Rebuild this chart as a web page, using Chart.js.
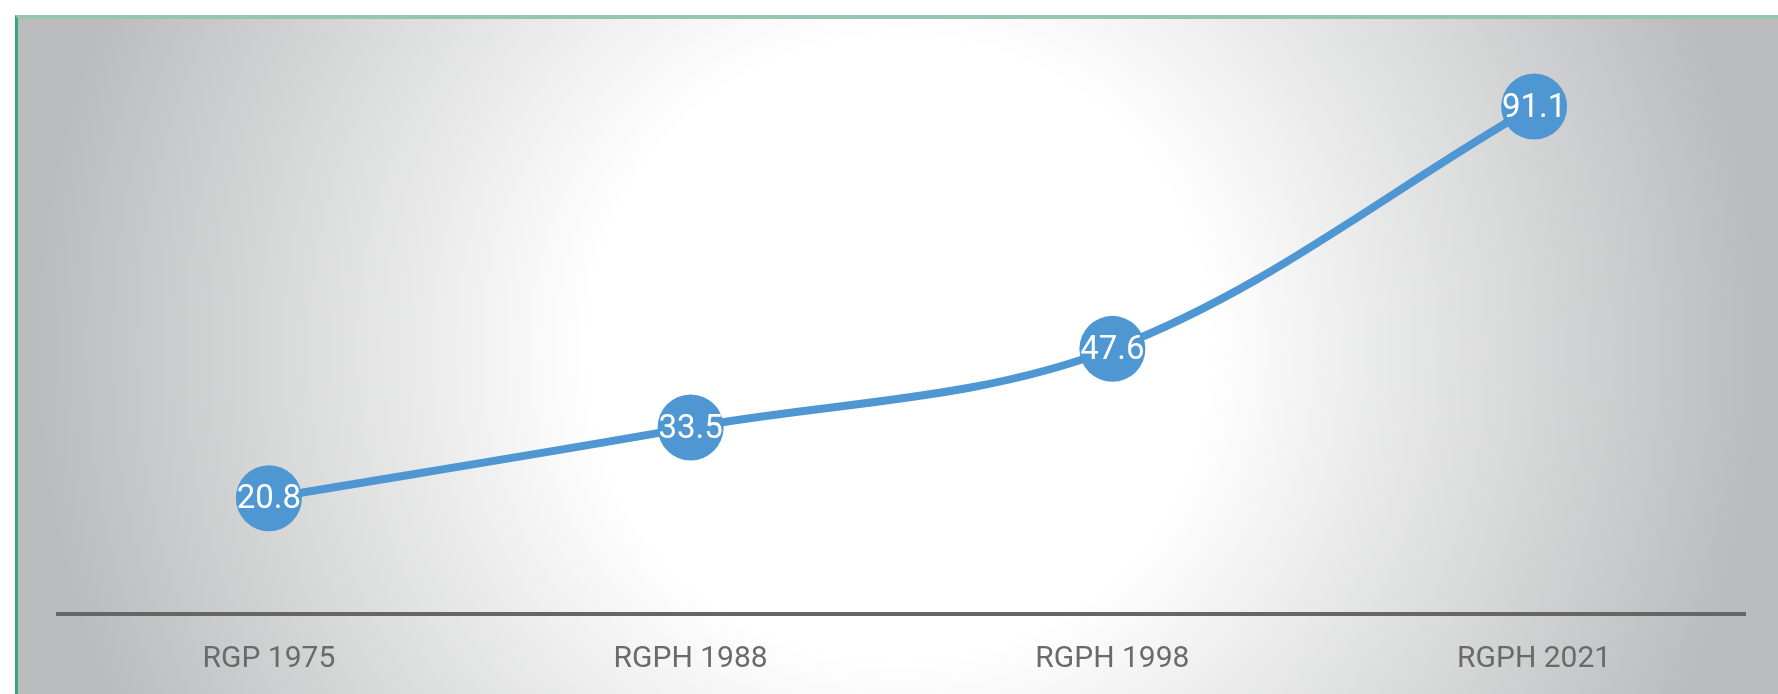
<!DOCTYPE html>
<html>
<head>
<meta charset="utf-8">
<script src="https://cdn.jsdelivr.net/npm/chart.js@4.4.1/dist/chart.umd.min.js"></script>
<style>
  html, body { margin: 0; padding: 0; width: 1778px; height: 694px; overflow: hidden; background: #fff; }
  #box {
    position: absolute; left: 15px; top: 15px; width: 1800px; height: 800px;
    border-left: 3px solid #3aa57a; border-top: 4px solid #98c5ae;
    background: radial-gradient(circle 860px at 880px 330px, #ffffff 0%, #ffffff 36%, #bbbcbd 100%);
  }
  #wrap { position: absolute; left: 0; top: 0; width: 1778px; height: 740px; }
</style>
</head>
<body>
<div id="box"></div>
<div id="wrap"><canvas id="c" width="1778" height="740"></canvas></div>
<script>
const categories = ["RGP 1975", "RGPH 1988", "RGPH 1998", "RGPH 2021"];
const values = [20.8, 33.5, 47.6, 91.1];
const yMin = 0;
const yMax = 100;

const labelPlugin = {
  id: 'valueLabels',
  afterDatasetsDraw(chart) {
    const ctx = chart.ctx;
    const meta = chart.getDatasetMeta(0);
    ctx.save();
    ctx.fillStyle = '#ffffff';
    ctx.font = '33px Roboto';
    ctx.textAlign = 'center';
    ctx.textBaseline = 'middle';
    meta.data.forEach((pt, i) => {
      ctx.fillText(values[i].toFixed(1), pt.x, pt.y + 2);
    });
    ctx.restore();
  }
};

new Chart(document.getElementById('c'), {
  type: 'line',
  data: {
    labels: categories,
    datasets: [{
      data: values,
      borderColor: '#4e97d3',
      backgroundColor: '#4e97d3',
      borderWidth: 8,
      tension: 0.35,
      pointRadius: 33,
      pointHoverRadius: 33,
      pointBackgroundColor: '#4e97d3',
      pointBorderWidth: 0,
      fill: false
    }]
  },
  options: {
    responsive: false,
    animation: false,
    events: [],
    layout: { padding: { left: 58, right: 25, top: 57, bottom: 36 } },
    plugins: { legend: { display: false }, tooltip: { enabled: false } },
    scales: {
      x: {
        offset: true,
        grid: { display: false, drawTicks: false },
        border: { display: true, color: '#666666', width: 4 },
        ticks: { color: '#6a6a6a', font: { family: 'Roboto', size: 30 }, padding: 27 }
      },
      y: {
        display: false,
        min: yMin,
        max: yMax
      }
    }
  },
  plugins: [labelPlugin]
});
</script>
</body>
</html>
